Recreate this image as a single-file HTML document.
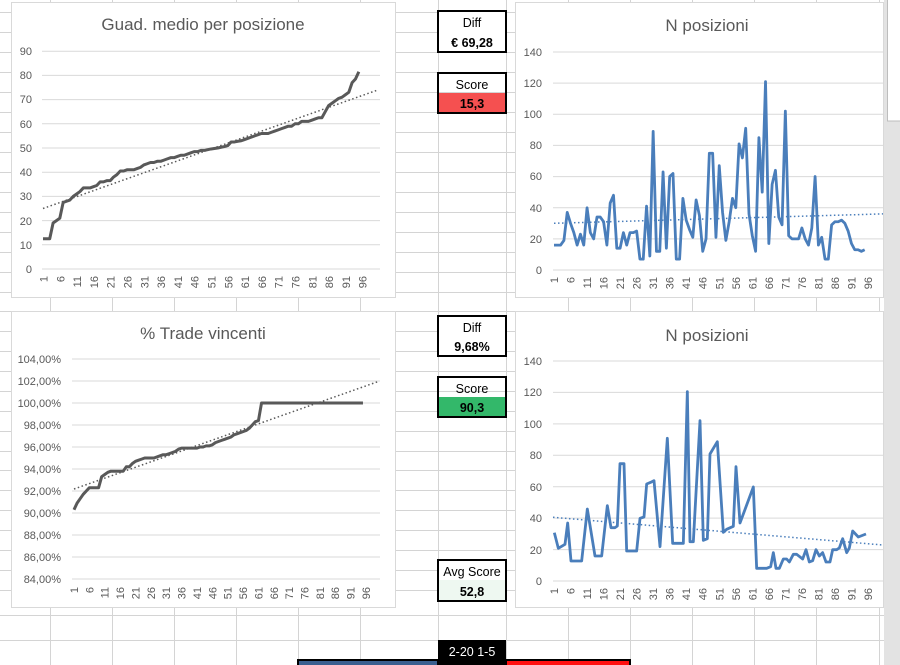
<!DOCTYPE html>
<html><head><meta charset="utf-8"><style>
html,body{margin:0;padding:0;background:#fff;}
svg{display:block;font-family:"Liberation Sans",Arial,sans-serif;}
.t{font-size:11px;fill:#595959;}
.ttl{font-size:17px;fill:#595959;}
.g{stroke:#d9d9d9;stroke-width:1;}
.bx{font-size:12.5px;fill:#000;}
.bb{font-size:12.5px;fill:#000;font-weight:bold;}
</style></head><body>
<svg width="900" height="665" viewBox="0 0 900 665" xmlns="http://www.w3.org/2000/svg">
<rect width="900" height="665" fill="#fff"/>
<!-- spreadsheet grid -->
<g stroke="#d4d4d4" stroke-width="1">
<line x1="50.5" y1="0" x2="50.5" y2="665"/><line x1="112.5" y1="0" x2="112.5" y2="665"/>
<line x1="174.5" y1="0" x2="174.5" y2="665"/><line x1="236.5" y1="0" x2="236.5" y2="665"/>
<line x1="298.5" y1="0" x2="298.5" y2="665"/><line x1="360.5" y1="0" x2="360.5" y2="665"/>
<line x1="438.5" y1="0" x2="438.5" y2="665"/><line x1="506.5" y1="0" x2="506.5" y2="665"/>
<line x1="568.5" y1="0" x2="568.5" y2="665"/><line x1="630.5" y1="0" x2="630.5" y2="665"/>
<line x1="692.5" y1="0" x2="692.5" y2="665"/><line x1="754.5" y1="0" x2="754.5" y2="665"/>
<line x1="816.5" y1="0" x2="816.5" y2="665"/><line x1="879.5" y1="0" x2="879.5" y2="665"/>
<line x1="0" y1="12.5" x2="900" y2="12.5"/><line x1="0" y1="32.5" x2="900" y2="32.5"/>
<line x1="0" y1="52.5" x2="900" y2="52.5"/><line x1="0" y1="72.5" x2="900" y2="72.5"/>
<line x1="0" y1="92.5" x2="900" y2="92.5"/><line x1="0" y1="112.5" x2="900" y2="112.5"/>
<line x1="0" y1="132.5" x2="900" y2="132.5"/><line x1="0" y1="152.5" x2="900" y2="152.5"/>
<line x1="0" y1="172.5" x2="900" y2="172.5"/><line x1="0" y1="192.5" x2="900" y2="192.5"/>
<line x1="0" y1="212.5" x2="900" y2="212.5"/><line x1="0" y1="232.5" x2="900" y2="232.5"/>
<line x1="0" y1="252.5" x2="900" y2="252.5"/><line x1="0" y1="272.5" x2="900" y2="272.5"/>
<line x1="0" y1="292.5" x2="900" y2="292.5"/><line x1="0" y1="311.5" x2="900" y2="311.5"/>
<line x1="0" y1="331.5" x2="900" y2="331.5"/><line x1="0" y1="351.5" x2="900" y2="351.5"/>
<line x1="0" y1="371.5" x2="900" y2="371.5"/><line x1="0" y1="391.5" x2="900" y2="391.5"/>
<line x1="0" y1="411.5" x2="900" y2="411.5"/><line x1="0" y1="431.5" x2="900" y2="431.5"/>
<line x1="0" y1="451.5" x2="900" y2="451.5"/><line x1="0" y1="470.5" x2="900" y2="470.5"/>
<line x1="0" y1="490.5" x2="900" y2="490.5"/><line x1="0" y1="510.5" x2="900" y2="510.5"/>
<line x1="0" y1="530.5" x2="900" y2="530.5"/><line x1="0" y1="550.5" x2="900" y2="550.5"/>
<line x1="0" y1="570.5" x2="900" y2="570.5"/><line x1="0" y1="590.5" x2="900" y2="590.5"/>
<line x1="0" y1="615.5" x2="900" y2="615.5"/><line x1="0" y1="640.5" x2="900" y2="640.5"/>
</g>
<!-- right pane -->
<rect x="884" y="0" width="16" height="665" fill="#e3e3e3"/>
<rect x="887.5" y="-1" width="14" height="122" fill="#fff" stroke="#bdbdbd"/>

<!-- ============ CHART 1 ============ -->
<rect x="11.5" y="2.5" width="384" height="295" fill="#fff" stroke="#d9d9d9"/>
<text x="203" y="30" text-anchor="middle" class="ttl">Guad. medio per posizione</text>
<g class="g">
<line x1="42" y1="51.2" x2="380" y2="51.2"/><line x1="42" y1="75.4" x2="380" y2="75.4"/>
<line x1="42" y1="99.6" x2="380" y2="99.6"/><line x1="42" y1="123.8" x2="380" y2="123.8"/>
<line x1="42" y1="148" x2="380" y2="148"/><line x1="42" y1="172.2" x2="380" y2="172.2"/>
<line x1="42" y1="196.4" x2="380" y2="196.4"/><line x1="42" y1="220.6" x2="380" y2="220.6"/>
<line x1="42" y1="244.8" x2="380" y2="244.8"/><line x1="42" y1="269" x2="380" y2="269"/>
</g>
<g class="t" text-anchor="end">
<text x="32" y="55">90</text><text x="32" y="79">80</text><text x="32" y="103">70</text>
<text x="32" y="128">60</text><text x="32" y="152">50</text><text x="32" y="176">40</text>
<text x="32" y="200">30</text><text x="32" y="225">20</text><text x="32" y="249">10</text>
<text x="32" y="273">0</text>
</g>
<g class="t" text-anchor="end">
<text transform="translate(47.5,276) rotate(-90)">1</text>
<text transform="translate(64.3,276) rotate(-90)">6</text>
<text transform="translate(81.1,276) rotate(-90)">11</text>
<text transform="translate(97.9,276) rotate(-90)">16</text>
<text transform="translate(114.7,276) rotate(-90)">21</text>
<text transform="translate(131.5,276) rotate(-90)">26</text>
<text transform="translate(148.3,276) rotate(-90)">31</text>
<text transform="translate(165.1,276) rotate(-90)">36</text>
<text transform="translate(181.9,276) rotate(-90)">41</text>
<text transform="translate(198.7,276) rotate(-90)">46</text>
<text transform="translate(215.5,276) rotate(-90)">51</text>
<text transform="translate(232.3,276) rotate(-90)">56</text>
<text transform="translate(249.1,276) rotate(-90)">61</text>
<text transform="translate(265.9,276) rotate(-90)">66</text>
<text transform="translate(282.7,276) rotate(-90)">71</text>
<text transform="translate(299.5,276) rotate(-90)">76</text>
<text transform="translate(316.3,276) rotate(-90)">81</text>
<text transform="translate(333.1,276) rotate(-90)">86</text>
<text transform="translate(349.9,276) rotate(-90)">91</text>
<text transform="translate(366.7,276) rotate(-90)">96</text>
</g>
<line x1="43" y1="208.5" x2="378" y2="89.9" stroke="#595959" stroke-width="1.5" stroke-dasharray="1.5,2.5"/>
<g transform="translate(39.64,269) scale(3.36,-2.42)">
<polyline fill="none" stroke="#595959" stroke-width="3" vector-effect="non-scaling-stroke" stroke-linejoin="round" points="1,12.5 2,12.5 3,12.5 4,19 5,20 6,21 7,27.5 8,28 9,28.5 10,30 11,31 12,32 13,33.5 14,33.5 15,33.5 16,34 17,34.5 18,36 19,36 20,36.5 21,36.5 22,38 23,39 24,40.5 25,40.5 26,41 27,41 28,41 29,41.5 30,42 31,43 32,43.5 33,44 34,44 35,44.5 36,44.5 37,45 38,45.5 39,46 40,46 41,46.5 42,47 43,47 44,47.5 45,48 46,48.5 47,48.5 48,49 49,49 50,49.3 51,49.6 52,49.8 53,50 54,50.3 55,50.6 56,51 57,52.5 58,52.5 59,52.8 60,53 61,53.5 62,54 63,54.5 64,55 65,55.5 66,56 67,56 68,56 69,56.5 70,57 71,57.5 72,58 73,58.5 74,59 75,59 76,60 77,60 78,61 79,61 80,61 81,61.5 82,62 83,62.5 84,62.5 85,65 86,67.5 87,68.5 88,69.5 89,70.5 90,71 91,72 92,73 93,77 94,78.5 95,81.5"/>
</g>

<!-- ============ CHART 2 ============ -->
<rect x="515.5" y="2.5" width="368" height="295" fill="#fff" stroke="#d9d9d9"/>
<text x="707" y="31" text-anchor="middle" class="ttl">N posizioni</text>
<g class="g">
<line x1="553" y1="52" x2="883" y2="52"/><line x1="553" y1="83.1" x2="883" y2="83.1"/>
<line x1="553" y1="114.3" x2="883" y2="114.3"/><line x1="553" y1="145.4" x2="883" y2="145.4"/>
<line x1="553" y1="176.6" x2="883" y2="176.6"/><line x1="553" y1="207.7" x2="883" y2="207.7"/>
<line x1="553" y1="238.9" x2="883" y2="238.9"/><line x1="553" y1="270" x2="883" y2="270"/>
</g>
<g class="t" text-anchor="end">
<text x="542" y="56">140</text><text x="542" y="87">120</text><text x="542" y="118">100</text>
<text x="542" y="149">80</text><text x="542" y="180">60</text><text x="542" y="212">40</text>
<text x="542" y="243">20</text><text x="542" y="274">0</text>
</g>
<g class="t" text-anchor="end">
<text transform="translate(558,277) rotate(-90)">1</text>
<text transform="translate(574.5,277) rotate(-90)">6</text>
<text transform="translate(591,277) rotate(-90)">11</text>
<text transform="translate(607.6,277) rotate(-90)">16</text>
<text transform="translate(624.1,277) rotate(-90)">21</text>
<text transform="translate(640.6,277) rotate(-90)">26</text>
<text transform="translate(657.2,277) rotate(-90)">31</text>
<text transform="translate(673.7,277) rotate(-90)">36</text>
<text transform="translate(690.2,277) rotate(-90)">41</text>
<text transform="translate(706.7,277) rotate(-90)">46</text>
<text transform="translate(723.3,277) rotate(-90)">51</text>
<text transform="translate(739.8,277) rotate(-90)">56</text>
<text transform="translate(756.3,277) rotate(-90)">61</text>
<text transform="translate(772.9,277) rotate(-90)">66</text>
<text transform="translate(789.4,277) rotate(-90)">71</text>
<text transform="translate(805.9,277) rotate(-90)">76</text>
<text transform="translate(822.4,277) rotate(-90)">81</text>
<text transform="translate(839,277) rotate(-90)">86</text>
<text transform="translate(855.5,277) rotate(-90)">91</text>
<text transform="translate(872,277) rotate(-90)">96</text>
</g>
<line x1="554" y1="223.3" x2="883" y2="213.9" stroke="#4a7ebb" stroke-width="1.5" stroke-dasharray="1.5,2.5"/>
<g transform="translate(550.7,270) scale(3.305,-1.557)">
<polyline fill="none" stroke="#4a7ebb" stroke-width="2.8" vector-effect="non-scaling-stroke" stroke-linejoin="round" points="1,16 2,16 3,16 4,19 5,37 6,30 7,24 8,16 9,23 10,16 11,40 12,24 13,20 14,34 15,34 16,31 17,16 18,43 19,48 20,14 21,14 22,24 23,16 24,24 25,24 26,25 27,7 28,7 29,41 30,9 31,89 32,12 33,12 34,63 35,14 36,60 37,62 38,7 39,7 40,46 41,32 42,26 43,21 44,45 45,35 46,12 47,20 48,75 49,75 50,21 51,67 52,37 53,19 54,31 55,46 56,40 57,81 58,72 59,91 60,36 61,22 62,12 63,85 64,50 65,121 66,17 67,55 68,64 69,34 70,29 71,102 72,22 73,20 74,20 75,20 76,27 77,20 78,16 79,27 80,60 81,16 82,21 83,7 84,7 85,29 86,31 87,31 88,32 89,30 90,25 91,17 92,13 93,13 94,12 95,13"/>
</g>

<!-- ============ CHART 3 ============ -->
<rect x="11.5" y="311.5" width="384" height="296" fill="#fff" stroke="#d9d9d9"/>
<text x="203" y="339" text-anchor="middle" class="ttl">% Trade vincenti</text>
<g class="g">
<line x1="72" y1="359" x2="380" y2="359"/><line x1="72" y1="381" x2="380" y2="381"/>
<line x1="72" y1="403" x2="380" y2="403"/><line x1="72" y1="425" x2="380" y2="425"/>
<line x1="72" y1="447" x2="380" y2="447"/><line x1="72" y1="469" x2="380" y2="469"/>
<line x1="72" y1="491" x2="380" y2="491"/><line x1="72" y1="513" x2="380" y2="513"/>
<line x1="72" y1="535" x2="380" y2="535"/><line x1="72" y1="557" x2="380" y2="557"/>
<line x1="72" y1="579" x2="380" y2="579"/>
</g>
<g class="t" text-anchor="end">
<text x="61" y="363">104,00%</text><text x="61" y="385">102,00%</text><text x="61" y="407">100,00%</text>
<text x="61" y="429">98,00%</text><text x="61" y="451">96,00%</text><text x="61" y="473">94,00%</text>
<text x="61" y="495">92,00%</text><text x="61" y="517">90,00%</text><text x="61" y="539">88,00%</text>
<text x="61" y="561">86,00%</text><text x="61" y="583">84,00%</text>
</g>
<g class="t" text-anchor="end">
<text transform="translate(78,587) rotate(-90)">1</text>
<text transform="translate(93.4,587) rotate(-90)">6</text>
<text transform="translate(108.7,587) rotate(-90)">11</text>
<text transform="translate(124.1,587) rotate(-90)">16</text>
<text transform="translate(139.5,587) rotate(-90)">21</text>
<text transform="translate(154.8,587) rotate(-90)">26</text>
<text transform="translate(170.2,587) rotate(-90)">31</text>
<text transform="translate(185.6,587) rotate(-90)">36</text>
<text transform="translate(200.9,587) rotate(-90)">41</text>
<text transform="translate(216.3,587) rotate(-90)">46</text>
<text transform="translate(231.7,587) rotate(-90)">51</text>
<text transform="translate(247,587) rotate(-90)">56</text>
<text transform="translate(262.4,587) rotate(-90)">61</text>
<text transform="translate(277.8,587) rotate(-90)">66</text>
<text transform="translate(293.1,587) rotate(-90)">71</text>
<text transform="translate(308.5,587) rotate(-90)">76</text>
<text transform="translate(323.9,587) rotate(-90)">81</text>
<text transform="translate(339.2,587) rotate(-90)">86</text>
<text transform="translate(354.6,587) rotate(-90)">91</text>
<text transform="translate(370,587) rotate(-90)">96</text>
</g>
<line x1="74" y1="489" x2="378" y2="381.6" stroke="#595959" stroke-width="1.5" stroke-dasharray="1.5,2.5"/>
<g transform="translate(70.93,1503) scale(3.074,-11)">
<polyline fill="none" stroke="#595959" stroke-width="3" vector-effect="non-scaling-stroke" stroke-linejoin="round" points="1,90.3 2,90.9 3,91.3 4,91.7 5,92 6,92.3 9,92.3 10,93.3 11,93.5 12,93.7 13,93.8 17,93.8 18,94.2 19,94.2 20,94.5 21,94.7 22,94.8 23,94.9 24,95 27,95 28,95.1 29,95.2 30,95.3 31,95.3 32,95.4 33,95.5 34,95.6 35,95.8 36,95.9 41,95.9 42,96 43,96 44,96.1 45,96.1 46,96.2 47,96.4 48,96.5 49,96.6 50,96.7 51,96.8 52,96.9 53,97.1 54,97.2 55,97.3 56,97.4 57,97.5 58,97.7 59,98 60,98.3 61,98.4 62,100 95,100"/>
</g>

<!-- ============ CHART 4 ============ -->
<rect x="515.5" y="311.5" width="368" height="296" fill="#fff" stroke="#d9d9d9"/>
<text x="707" y="341" text-anchor="middle" class="ttl">N posizioni</text>
<g class="g">
<line x1="553" y1="361" x2="883" y2="361"/><line x1="553" y1="392.4" x2="883" y2="392.4"/>
<line x1="553" y1="423.9" x2="883" y2="423.9"/><line x1="553" y1="455.3" x2="883" y2="455.3"/>
<line x1="553" y1="486.7" x2="883" y2="486.7"/><line x1="553" y1="518.1" x2="883" y2="518.1"/>
<line x1="553" y1="549.6" x2="883" y2="549.6"/><line x1="553" y1="581" x2="883" y2="581"/>
</g>
<g class="t" text-anchor="end">
<text x="542" y="365">140</text><text x="542" y="396">120</text><text x="542" y="428">100</text>
<text x="542" y="459">80</text><text x="542" y="491">60</text><text x="542" y="522">40</text>
<text x="542" y="554">20</text><text x="542" y="585">0</text>
</g>
<g class="t" text-anchor="end">
<text transform="translate(558,588) rotate(-90)">1</text>
<text transform="translate(574.5,588) rotate(-90)">6</text>
<text transform="translate(591,588) rotate(-90)">11</text>
<text transform="translate(607.6,588) rotate(-90)">16</text>
<text transform="translate(624.1,588) rotate(-90)">21</text>
<text transform="translate(640.6,588) rotate(-90)">26</text>
<text transform="translate(657.2,588) rotate(-90)">31</text>
<text transform="translate(673.7,588) rotate(-90)">36</text>
<text transform="translate(690.2,588) rotate(-90)">41</text>
<text transform="translate(706.7,588) rotate(-90)">46</text>
<text transform="translate(723.3,588) rotate(-90)">51</text>
<text transform="translate(739.8,588) rotate(-90)">56</text>
<text transform="translate(756.3,588) rotate(-90)">61</text>
<text transform="translate(772.9,588) rotate(-90)">66</text>
<text transform="translate(789.4,588) rotate(-90)">71</text>
<text transform="translate(805.9,588) rotate(-90)">76</text>
<text transform="translate(822.4,588) rotate(-90)">81</text>
<text transform="translate(839,588) rotate(-90)">86</text>
<text transform="translate(855.5,588) rotate(-90)">91</text>
<text transform="translate(872,588) rotate(-90)">96</text>
</g>
<line x1="553" y1="517.3" x2="883" y2="545" stroke="#4a7ebb" stroke-width="1.5" stroke-dasharray="1.5,2.5"/>
<g transform="translate(500,305) scale(0.33333)">
<polyline fill="none" stroke="#4a7ebb" stroke-width="2.8" vector-effect="non-scaling-stroke" stroke-linejoin="round" points="163,683 175,730 195,718 203,654 213,768 245,768 262,612 285,753 305,753 322,602 333,668 345,668 352,663 360,476 372,476 380,738 410,738 420,640 432,636 440,537 452,532 462,527 480,725 502,400 518,715 550,715 562,260 570,710 580,710 600,347 610,706 622,701 630,447 652,410 670,682 680,673 700,664 708,485 720,654 760,546 770,790 800,790 812,785 820,743 828,790 838,790 850,762 860,762 868,771 880,748 890,748 908,762 918,734 928,771 938,767 948,734 958,753 968,743 978,771 990,771 998,734 1010,734 1018,729 1028,701 1040,743 1048,729 1058,678 1075,696 1098,687"/>
</g>

<!-- ============ middle boxes ============ -->
<rect x="438" y="11" width="68" height="41" fill="#fff" stroke="#000" stroke-width="2"/>
<text x="472" y="27" text-anchor="middle" class="bx">Diff</text>
<text x="472" y="47" text-anchor="middle" class="bb">€ 69,28</text>

<rect x="438" y="93" width="68" height="20" fill="#f55050"/>
<rect x="438" y="73" width="68" height="40" fill="none" stroke="#000" stroke-width="2"/>
<text x="472" y="89" text-anchor="middle" class="bx">Score</text>
<text x="472" y="108" text-anchor="middle" class="bb">15,3</text>

<rect x="438" y="316" width="68" height="40" fill="#fff" stroke="#000" stroke-width="2"/>
<text x="472" y="332" text-anchor="middle" class="bx">Diff</text>
<text x="472" y="351" text-anchor="middle" class="bb">9,68%</text>

<rect x="438" y="397" width="68" height="20" fill="#33b86a"/>
<rect x="438" y="377" width="68" height="40" fill="none" stroke="#000" stroke-width="2"/>
<text x="472" y="393" text-anchor="middle" class="bx">Score</text>
<text x="472" y="412" text-anchor="middle" class="bb">90,3</text>

<rect x="438" y="560" width="68" height="41" fill="#fff"/>
<rect x="438" y="580" width="68" height="21" fill="#eef8f1"/>
<rect x="438" y="560" width="68" height="41" fill="none" stroke="#000" stroke-width="2"/>
<text x="472" y="576" text-anchor="middle" class="bx">Avg Score</text>
<text x="472" y="596" text-anchor="middle" class="bb">52,8</text>

<!-- bottom -->
<rect x="438" y="640" width="68" height="25" fill="#000"/>
<text x="472" y="656" text-anchor="middle" style="font-size:12.5px;fill:#fff">2-20 1-5</text>
<rect x="298" y="660" width="140" height="8" fill="#3a5f8f" stroke="#000" stroke-width="2"/>
<rect x="506" y="660" width="124" height="8" fill="#ff1010" stroke="#000" stroke-width="2"/>
</svg>
</body></html>
